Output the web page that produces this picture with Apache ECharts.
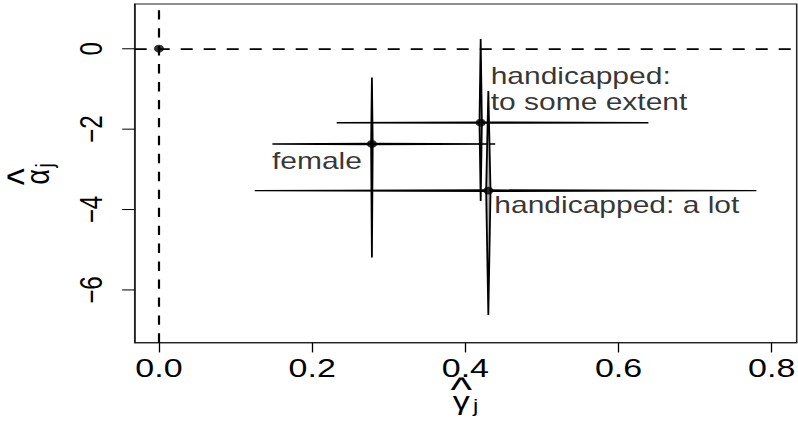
<!DOCTYPE html>
<html>
<head>
<meta charset="utf-8">
<script src="https://cdn.jsdelivr.net/npm/echarts@6/dist/echarts.min.js"></script>
<style>
  html, body { margin: 0; padding: 0; background: #fff; overflow: hidden; }
  #wrap { width: 798px; height: 423px; overflow: hidden; }
  /* the plot is laid out on a taller surface and squeezed vertically */
  #chart { width: 798px; height: 542px; transform: scaleY(0.78044); transform-origin: 0 0; }
</style>
</head>
<body>
<div id="wrap"><div id="chart"></div></div>
<script>
// estimated effects (gamma, alpha) with their interval ends
const groups = ['female', 'handicapped:\nto some extent', 'handicapped: a lot'];
const gammaHat = [0.278, 0.420, 0.430];
const alphaHat = [-2.37, -1.84, -3.53];
const gammaLow = [0.148, 0.232, 0.125];
const gammaHigh = [0.439, 0.639, 0.780];
const alphaLow = [-5.19, -3.79, -6.62];
const alphaHigh = [-0.72, 0.24, -1.05];
const reference = [0, 0];

const xTicks = [0, 0.2, 0.4, 0.6, 0.8];
const yTicks = [0, -2, -4, -6];
const xRange = [-0.0317, 0.8326];
const yRange = [-7.31, 1.111];

// styling
const FONT = "'Liberation Sans', Arial, 'DejaVu Sans', sans-serif";
const armHalfWidth = [{ h: 0.6, v: 0.8 }, { h: 0.6, v: 1.2 }, { h: 0.8, v: 2.2 }];
const labelPlacement = [
  { dx: -10, dy: 21.7, align: 'right' },
  { dx: 10, dy: -42.6, align: 'left' },
  { dx: 6, dy: 18.5, align: 'left' }
];

const armData = gammaHat.map((g, i) => [g, alphaHat[i], gammaLow[i], gammaHigh[i], alphaLow[i], alphaHigh[i]]);

const pointData = gammaHat.map((g, i) => ({
  value: [g, alphaHat[i]],
  label: {
    show: true,
    formatter: groups[i],
    position: 'inside',
    align: labelPlacement[i].align,
    verticalAlign: 'middle',
    offset: [labelPlacement[i].dx, labelPlacement[i].dy],
    fontSize: 30,
    lineHeight: 33,
    fontFamily: FONT,
    color: '#000'
  }
}));
pointData.push({ value: reference, label: { show: false } });

const fmtY = v => (v === 0 ? '0' : (v < 0 ? '\u2212' : '') + Math.abs(v));

// axis title: a hatted Greek letter with subscript j
function hatted(letter) {
  return {
    text: '{h|^}{p|}\n{g|' + letter + '}{j|j}',
    rich: {
      h: { width: 20, align: 'center', fontSize: 46, lineHeight: 19.5, verticalAlign: 'top', fontFamily: FONT, color: '#000' },
      p: { width: 9, fontSize: 10, lineHeight: 19.5, verticalAlign: 'top' },
      g: { width: 20, align: 'center', fontSize: 34, lineHeight: 18, verticalAlign: 'top', fontFamily: FONT, color: '#000' },
      j: { width: 9, fontSize: 24, lineHeight: 18, verticalAlign: 'top', padding: [13, 0, 0, 0], fontFamily: FONT, color: '#000' }
    }
  };
}
const gammaTitle = hatted('\u03b3');
const alphaTitle = hatted('\u03b1');

const chart = echarts.init(document.getElementById('chart'), null, { renderer: 'svg' });

const axisLineStyle = { show: true, onZero: false, lineStyle: { color: '#222', width: 1.5 } };

chart.setOption({
  animation: false,
  backgroundColor: '#fff',
  grid: {
    left: 134.7, right: 1.3, top: 5.1, bottom: 102.9,
    show: true, borderColor: '#222', borderWidth: 1.5,
    containLabel: false, outerBoundsMode: 'none'
  },
  xAxis: {
    type: 'value', min: xRange[0], max: xRange[1],
    axisLine: axisLineStyle,
    splitLine: { show: false },
    axisTick: { show: true, inside: false, length: 12.5, customValues: xTicks, lineStyle: { color: '#000', width: 1.3 } },
    axisLabel: {
      customValues: xTicks, formatter: v => v.toFixed(1),
      fontSize: 34, fontFamily: FONT, color: '#000', margin: 15
    },
    name: gammaTitle.text,
    nameLocation: 'middle', nameGap: 37, nameMoveOverlap: false,
    nameTextStyle: { fontFamily: FONT, color: '#000', fontSize: 34, rich: gammaTitle.rich }
  },
  yAxis: {
    type: 'value', min: yRange[0], max: yRange[1],
    axisLine: axisLineStyle,
    splitLine: { show: false },
    axisTick: { show: true, inside: false, length: 12.5, customValues: yTicks, lineStyle: { color: '#000', width: 1.3 } },
    axisLabel: {
      customValues: yTicks, formatter: fmtY, rotate: 90,
      fontSize: 31, fontFamily: FONT, color: '#000', margin: 28
    },
    name: alphaTitle.text,
    nameLocation: 'middle', nameGap: 97, nameMoveOverlap: false,
    nameTextStyle: { fontFamily: FONT, color: '#000', fontSize: 34, rich: alphaTitle.rich }
  },
  series: [
    {
      // interval arms drawn as slim diamonds
      type: 'custom',
      data: armData,
      renderItem: function (params, api) {
        const i = params.dataIndex;
        const c = api.coord([api.value(0), api.value(1)]);
        const l = api.coord([api.value(2), api.value(1)]);
        const r = api.coord([api.value(3), api.value(1)]);
        const b = api.coord([api.value(0), api.value(4)]);
        const t = api.coord([api.value(0), api.value(5)]);
        const w = armHalfWidth[i];
        const style = { fill: '#b4b4b4', stroke: '#000', lineWidth: 1.8, lineJoin: 'bevel' };
        return {
          type: 'group',
          children: [
            { type: 'polygon', shape: { points: [l, [c[0], c[1] - w.h], r, [c[0], c[1] + w.h]] }, style: style },
            { type: 'polygon', shape: { points: [t, [c[0] + w.v, c[1]], b, [c[0] - w.v, c[1]]] }, style: style }
          ]
        };
      },
      z: 2
    },
    {
      type: 'scatter',
      data: pointData,
      symbol: 'circle',
      symbolSize: 10,
      itemStyle: { color: '#000' },
      z: 3,
      markLine: {
        silent: true,
        symbol: 'none',
        label: { show: false },
        lineStyle: { color: '#000', type: [12, 11], width: 2.2 },
        data: [{ xAxis: reference[0] }, { yAxis: reference[1] }]
      }
    }
  ]
});
</script>
</body>
</html>
